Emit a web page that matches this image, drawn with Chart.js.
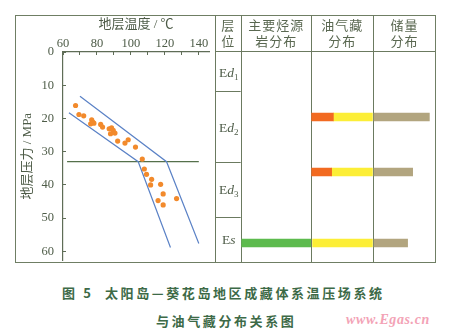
<!DOCTYPE html>
<html>
<head>
<meta charset="utf-8">
<script src="https://cdn.jsdelivr.net/npm/chart.js@4.4.1/dist/chart.umd.min.js"></script>
<style>
  html, body { margin: 0; padding: 0; background: #fff; }
  #wrap { position: relative; width: 450px; height: 333px; overflow: hidden; background: #fff; }
  #frame { position: absolute; left: 15px; top: 15px; width: 421px; height: 248px;
           border: 1px solid #6f7e64; box-sizing: border-box; }
  canvas { position: absolute; top: 0; }
  #plot { left: 0; }
  #table { left: 214px; }
  .cap { position: absolute; font-family: "Noto Sans CJK SC", sans-serif; font-weight: 700;
         font-size: 13px; letter-spacing: 2.6px; color: #3d6a47; white-space: nowrap; line-height: 16px; }
  #mark { position: absolute; left: 346px; top: 312px; font-family: "Liberation Serif", serif;
          font-style: italic; font-weight: 700; font-size: 14px; letter-spacing: 0.6px; color: #f3a3b6; }
</style>
</head>
<body>
<div id="wrap">
  <div id="frame"></div>
  <canvas id="plot" width="215" height="263"></canvas>
  <canvas id="table" width="236" height="263"></canvas>
  <div class="cap" style="left:62px; top:285px;">图 5</div>
  <div class="cap" style="left:105px; top:285px;">太阳岛—葵花岛地区成藏体系温压场系统</div>
  <div class="cap" style="left:156px; top:313px;">与油气藏分布关系图</div>
  <div id="mark">www.Egas.cn</div>
</div>
<script>
// ---- temperature / pressure samples ----
const sampleTemp     = [67.4, 69.4, 72.2, 76.9, 77.5, 78.2, 76.3, 82.2, 83.3, 87.2, 88.6, 89.6, 88.0, 90.6,
                        92.2, 96.5, 98.4, 102.7, 106.7, 107.9, 109.2, 112.2, 111.6, 117.5, 119.0, 126.9, 116.0, 119.0];
const samplePressure = [16.1, 18.8, 19.2, 20.4, 21.1, 21.4, 21.6, 21.8, 22.6, 23.1, 22.8, 23.6, 24.6, 24.4,
                        26.8, 27.4, 26.4, 28.6, 32.2, 35.2, 36.8, 38.3, 40.0, 39.8, 42.7, 44.1, 44.7, 46.0];

// envelope of the temperature-pressure trend
const upperTemp = [70, 121, 140];
const upperPressure = [13.3, 33, 57.6];
const lowerTemp = [63.5, 104.3, 123.3];
const lowerPressure = [18.3, 33, 58.8];

// pressure-system boundary
const boundaryTemp = [62.4, 140];
const boundaryPressure = [33, 33];

// axis ticks
const tempLabels = [60, 80, 100, 120, 140];
const pressureLabels = [0, 10, 20, 30, 40, 50, 60];

// ---- strata table ----
const strata = ['Ed1', 'Ed2', 'Ed3', 'Es'];
const strataTop = [0, 11.7, 33, 49.4];
const strataBottom = [11.7, 33, 49.4, 62.7];
const columnHeaders = [['主要烃源', '岩分布'], ['油气藏', '分布'], ['储量', '分布']];
const columnEdges = [0, 36, 68, 100];

// bar levels (MPa) for Ed2, Ed3, Es; extents in table units
const barLevels = [19.5, 36, 57.3];
const sourceRock = [null, null, [0.5, 36]];
const oilPool    = [[36.5, 47.7], [36.5, 46.8], null];
const gasPool    = [[47.7, 67.8], [46.8, 67.8], [37, 67.8]];
const reserves   = [[68.6, 97.1], [68.6, 88.5], [68.6, 85.9]];

const axisColor = '#5f6d57';
const textColor = '#4e5c48';
const serif = '"Liberation Serif", "Noto Sans CJK SC", serif';
const cjk = '"Liberation Serif", "Noto Sans CJK SC", sans-serif';

const toPoints = (xs, ys) => xs.map((v, i) => ({ x: v, y: ys[i] }));
// keep the plot area fixed: no extra room for overhanging labels
const noLabelPadding = s => { s.paddingLeft = 0; s.paddingRight = 0; s.paddingTop = 0; s.paddingBottom = 0; };

new Chart(document.getElementById('plot'), {
  type: 'scatter',
  data: {
    datasets: [
      { label: '样品', data: toPoints(sampleTemp, samplePressure), pointRadius: 2.6,
        pointBackgroundColor: '#f28a2c', pointBorderWidth: 0, pointHoverRadius: 2.6 },
      { label: '上包络线', type: 'line', data: toPoints(upperTemp, upperPressure), borderColor: '#5b82c6',
        borderWidth: 1.2, pointRadius: 0, fill: false, tension: 0 },
      { label: '下包络线', type: 'line', data: toPoints(lowerTemp, lowerPressure), borderColor: '#5b82c6',
        borderWidth: 1.2, pointRadius: 0, fill: false, tension: 0 },
      { label: '压力界面', type: 'line', data: toPoints(boundaryTemp, boundaryPressure), borderColor: '#55704b',
        borderWidth: 1.2, pointRadius: 0, fill: false, tension: 0 }
    ]
  },
  options: {
    responsive: false,
    animation: false,
    layout: { padding: { left: 15, top: 15, right: 6, bottom: 2 } },
    plugins: { legend: { display: false }, tooltip: { enabled: false } },
    scales: {
      x: {
        type: 'linear', position: 'top', min: 60, max: 146,
        ticks: { stepSize: 10, includeBounds: false, padding: 4, color: textColor, maxRotation: 0, autoSkip: false,
                 font: { family: serif, size: 12.5 },
                 callback: v => tempLabels.includes(v) ? String(v) : '' },
        grid: { display: true, drawOnChartArea: false, drawTicks: true, tickLength: -3, color: axisColor, lineWidth: 1 },
        border: { display: true, color: axisColor, width: 1.2 },
        title: { display: true, text: '地层温度 / ℃', color: textColor, font: { family: cjk, size: 13 },
                 padding: { top: 2, bottom: 0 } },
        afterFit(s) { s.height = 37; noLabelPadding(s); }
      },
      y: {
        type: 'linear', reverse: true, min: 0, max: 62.7,
        ticks: { stepSize: 10, includeBounds: false, padding: 12, color: textColor,
                 font: { family: serif, size: 12.5 },
                 callback: v => pressureLabels.includes(v) ? String(v) : '' },
        grid: { display: true, drawOnChartArea: false, drawTicks: true, tickLength: -3, color: axisColor, lineWidth: 1 },
        border: { display: true, color: axisColor, width: 1.2 },
        title: { display: true, text: '地层压力 / MPa', color: textColor, font: { family: cjk, size: 13 },
                 padding: { top: 5, bottom: 0 } },
        afterFit(s) { s.width = 48; noLabelPadding(s); }
      }
    }
  }
});

// grid, headers and stratum names of the distribution table
const tablePlugin = {
  id: 'tableGrid',
  beforeDatasetsDraw(chart) {
    const { ctx, chartArea, scales: { x, y } } = chart;
    const top = 15, bottom = 262, left = 1;
    const line = (x1, y1, x2, y2) => { ctx.beginPath(); ctx.moveTo(x1, y1); ctx.lineTo(x2, y2); ctx.stroke(); };
    ctx.save();
    ctx.strokeStyle = '#6b7a60';
    ctx.lineWidth = 1;
    // left edge of the table and the 层位 column
    line(left + 0.5, top, left + 0.5, bottom);
    line(Math.round(chartArea.left) + 0.5, top, Math.round(chartArea.left) + 0.5, bottom);
    columnEdges.slice(1, -1).forEach(v => {
      const px = Math.round(x.getPixelForValue(v)) + 0.5;
      line(px, top, px, bottom);
    });
    // header bottom
    const hy = Math.round(y.getPixelForValue(0)) - 0.5;
    line(left, hy, chartArea.right, hy);
    // stratum boundaries inside the 层位 column
    strataTop.slice(1).forEach(v => {
      const py = Math.round(y.getPixelForValue(v)) + 0.5;
      line(left, py, chartArea.left, py);
    });

    // header texts
    ctx.fillStyle = '#5a6851';
    ctx.font = '13px "Noto Sans CJK SC", sans-serif';
    ctx.textAlign = 'center';
    ctx.textBaseline = 'middle';
    ctx.letterSpacing = '1px';
    const c0 = (left + chartArea.left) / 2;
    ctx.fillText('层', c0 + 0.5, 25);
    ctx.fillText('位', c0 + 0.5, 41);
    columnHeaders.forEach((lines, i) => {
      const cx = (x.getPixelForValue(columnEdges[i]) + x.getPixelForValue(columnEdges[i + 1])) / 2;
      lines.forEach((t, k) => ctx.fillText(t, cx + 0.5, 25 + k * 16));
    });
    ctx.letterSpacing = '0px';

    // stratum names: E + italic letter + subscript number
    ctx.fillStyle = '#4e5c48';
    ctx.textAlign = 'left';
    ctx.textBaseline = 'alphabetic';
    strata.forEach((name, i) => {
      const cy = y.getPixelForValue((strataTop[i] + strataBottom[i]) / 2) + 5;
      const parts = [
        { t: 'E', f: '13.5px "Liberation Serif", serif', dy: 0 },
        { t: name[1], f: 'italic 13.5px "Liberation Serif", serif', dy: 0 },
        { t: name.slice(2), f: '9px "Liberation Serif", serif', dy: 3 }
      ];
      let w = 0;
      parts.forEach(p => { ctx.font = p.f; p.w = ctx.measureText(p.t).width; w += p.w; });
      let px = c0 - w / 2 + 1;
      parts.forEach(p => { ctx.font = p.f; ctx.fillText(p.t, px, cy + p.dy); px += p.w; });
    });
    ctx.restore();
  }
};

const toBars = arr => barLevels.map((p, i) => arr[i] ? { y: p, x: arr[i] } : null).filter(Boolean);

new Chart(document.getElementById('table'), {
  type: 'bar',
  data: {
    datasets: [
      { label: '主要烃源岩', data: toBars(sourceRock), backgroundColor: '#5dbb4e' },
      { label: '油藏', data: toBars(oilPool), backgroundColor: '#f26a21' },
      { label: '气藏', data: toBars(gasPool), backgroundColor: '#fcee37' },
      { label: '储量', data: toBars(reserves), backgroundColor: '#b2a57f' }
    ]
  },
  options: {
    responsive: false,
    animation: false,
    indexAxis: 'y',
    grouped: false,
    barThickness: 8,
    borderWidth: 0,
    borderSkipped: false,
    layout: { padding: { left: 26.7, top: 52, right: 15, bottom: 2 } },
    plugins: { legend: { display: false }, tooltip: { enabled: false } },
    scales: {
      x: { type: 'linear', min: 0, max: 100, offset: false, display: false },
      y: { type: 'linear', min: 0, max: 62.7, reverse: true, offset: false, display: false }
    }
  },
  plugins: [tablePlugin]
});
</script>
</body>
</html>
